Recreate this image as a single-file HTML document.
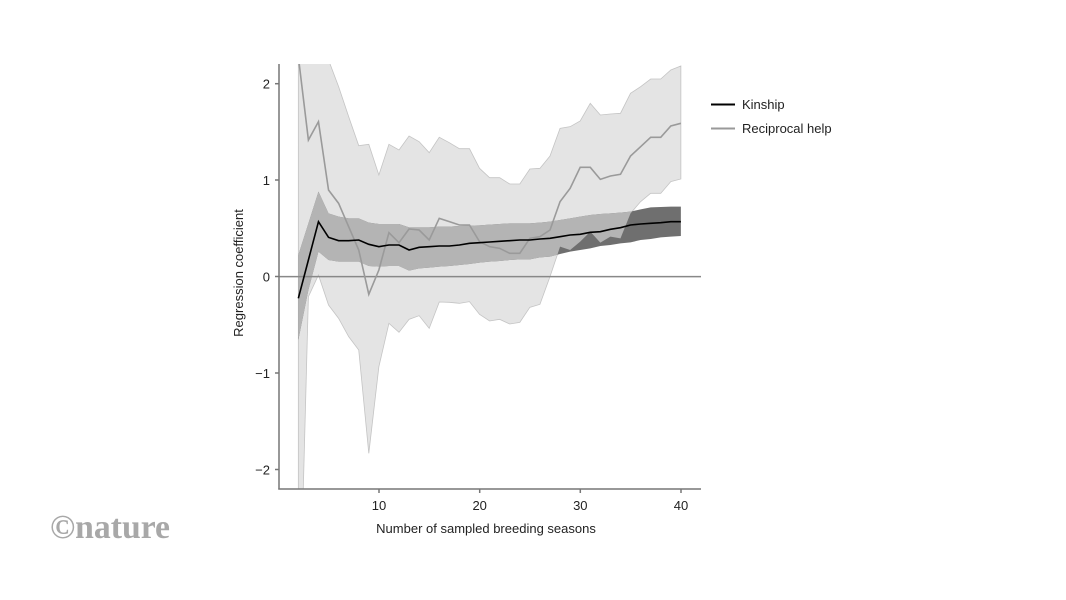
<!DOCTYPE html>
<html><head><meta charset="utf-8"><style>
html,body{margin:0;padding:0;background:#fff;}
svg{display:block;font-family:"Liberation Sans",Arial,sans-serif;}
</style></head><body>
<svg width="1066" height="600" viewBox="0 0 1066 600" xmlns="http://www.w3.org/2000/svg">
<defs>
<clipPath id="plot"><rect x="147" y="42" width="1266" height="1275"/></clipPath>
<clipPath id="light"><polygon points="205,-200 235.2,-200 265.4,-200 295.6,30 325.8,110 356,200 386.2,287 416.4,283 446.6,375 476.8,283 507,300 537.2,258 567.4,275 597.6,308 627.8,262 658,278 688.2,296 718.4,296 748.6,355 778.8,383 809,383 839.2,402 869.4,402 899.6,357 929.8,355 960,318 990.2,235 1020.4,230 1050.6,213 1080.8,160 1111,195 1141.2,192 1171.4,190 1201.6,130 1231.8,110 1262,87 1292.2,87 1322.4,60 1352.6,48 1352.6,387 1322.4,395 1292.2,430 1262,430 1231.8,455 1201.6,490 1171.4,565 1141.2,560 1111,578 1080.8,545 1050.6,575 1020.4,600 990.2,590 960,680 929.8,763 899.6,772 869.4,817 839.2,822 809,808 778.8,813 748.6,793 718.4,755 688.2,760 658,757 627.8,756 597.6,835 567.4,797 537.2,808 507,847 476.8,820 446.6,950 416.4,1210 386.2,900 356,860 325.8,805 295.6,765 265.4,675 235.2,740 215,1500 205,1500"/></clipPath>
</defs>
<g transform="translate(230,50) scale(0.3333333)">
<g clip-path="url(#plot)">
<polygon fill="#e4e4e4" stroke="#c4c4c4" stroke-width="0.8" vector-effect="non-scaling-stroke" points="205,-200 235.2,-200 265.4,-200 295.6,30 325.8,110 356,200 386.2,287 416.4,283 446.6,375 476.8,283 507,300 537.2,258 567.4,275 597.6,308 627.8,262 658,278 688.2,296 718.4,296 748.6,355 778.8,383 809,383 839.2,402 869.4,402 899.6,357 929.8,355 960,318 990.2,235 1020.4,230 1050.6,213 1080.8,160 1111,195 1141.2,192 1171.4,190 1201.6,130 1231.8,110 1262,87 1292.2,87 1322.4,60 1352.6,48 1352.6,387 1322.4,395 1292.2,430 1262,430 1231.8,455 1201.6,490 1171.4,565 1141.2,560 1111,578 1080.8,545 1050.6,575 1020.4,600 990.2,590 960,680 929.8,763 899.6,772 869.4,817 839.2,822 809,808 778.8,813 748.6,793 718.4,755 688.2,760 658,757 627.8,756 597.6,835 567.4,797 537.2,808 507,847 476.8,820 446.6,950 416.4,1210 386.2,900 356,860 325.8,805 295.6,765 265.4,675 235.2,740 215,1500 205,1500"/>
<polygon fill="#6f6f6f" points="205,615 235.2,520 265.4,425 295.6,490 325.8,500 356,505 386.2,505 416.4,518 446.6,522 476.8,522 507,522 537.2,532 567.4,532 597.6,532 627.8,530 658,530 688.2,528 718.4,527 748.6,526 778.8,524 809,522 839.2,520 869.4,520 899.6,520 929.8,518 960,515 990.2,510 1020.4,505 1050.6,500 1080.8,495 1111,492 1141.2,490 1171.4,488 1201.6,485 1231.8,478 1262,472 1292.2,471 1322.4,470 1352.6,470 1352.6,558 1322.4,560 1292.2,562 1262,567 1231.8,570 1201.6,577 1171.4,580 1141.2,585 1111,588 1080.8,595 1050.6,600 1020.4,605 990.2,612 960,620 929.8,622 899.6,628 869.4,628 839.2,630 809,633 778.8,635 748.6,638 718.4,642 688.2,645 658,648 627.8,650 597.6,653 567.4,655 537.2,662 507,648 476.8,648 446.6,650 416.4,648 386.2,635 356,635 325.8,635 295.6,630 265.4,605 235.2,720 205,870"/>
<g clip-path="url(#light)">
<polygon fill="#b4b4b4" points="205,615 235.2,520 265.4,425 295.6,490 325.8,500 356,505 386.2,505 416.4,518 446.6,522 476.8,522 507,522 537.2,532 567.4,532 597.6,532 627.8,530 658,530 688.2,528 718.4,527 748.6,526 778.8,524 809,522 839.2,520 869.4,520 899.6,520 929.8,518 960,515 990.2,510 1020.4,505 1050.6,500 1080.8,495 1111,492 1141.2,490 1171.4,488 1201.6,485 1231.8,478 1262,472 1292.2,471 1322.4,470 1352.6,470 1352.6,558 1322.4,560 1292.2,562 1262,567 1231.8,570 1201.6,577 1171.4,580 1141.2,585 1111,588 1080.8,595 1050.6,600 1020.4,605 990.2,612 960,620 929.8,622 899.6,628 869.4,628 839.2,630 809,633 778.8,635 748.6,638 718.4,642 688.2,645 658,648 627.8,650 597.6,653 567.4,655 537.2,662 507,648 476.8,648 446.6,650 416.4,648 386.2,635 356,635 325.8,635 295.6,630 265.4,605 235.2,720 205,870"/>
</g>
<line x1="147" y1="680" x2="1413" y2="680" stroke="#888" stroke-width="1.5" vector-effect="non-scaling-stroke"/>
<polyline fill="none" stroke="#9a9a9a" stroke-width="1.6" vector-effect="non-scaling-stroke" points="205,20 235.2,270 265.4,215 295.6,420 325.8,460 356,530 386.2,600 416.4,733 446.6,660 476.8,548 507,578 537.2,537 567.4,540 597.6,570 627.8,505 658,515 688.2,525 718.4,525 748.6,575 778.8,590 809,595 839.2,610 869.4,610 899.6,565 929.8,560 960,540 990.2,455 1020.4,415 1050.6,352 1080.8,352 1111,388 1141.2,378 1171.4,373 1201.6,318 1231.8,290 1262,262 1292.2,262 1322.4,228 1352.6,220"/>
<polyline fill="none" stroke="#000" stroke-width="1.6" vector-effect="non-scaling-stroke" points="205,745 235.2,630 265.4,515 295.6,562 325.8,572 356,572 386.2,570 416.4,583 446.6,590 476.8,585 507,585 537.2,600 567.4,592 597.6,590 627.8,588 658,588 688.2,585 718.4,580 748.6,578 778.8,576 809,574 839.2,572 869.4,570 899.6,570 929.8,567 960,565 990.2,560 1020.4,555 1050.6,553 1080.8,547 1111,545 1141.2,538 1171.4,533 1201.6,525 1231.8,522 1262,520 1292.2,518 1322.4,515 1352.6,515"/>
</g>
</g>
<g stroke="#777" stroke-width="1.5" fill="none">
<line x1="279" y1="64" x2="279" y2="489.5"/>
<line x1="278.3" y1="489" x2="701" y2="489"/>
<line x1="275" y1="83.7" x2="279" y2="83.7"/>
<line x1="275" y1="180" x2="279" y2="180"/>
<line x1="275" y1="276.5" x2="279" y2="276.5"/>
<line x1="275" y1="373" x2="279" y2="373"/>
<line x1="275" y1="469.5" x2="279" y2="469.5"/>
<line x1="379" y1="489" x2="379" y2="493"/>
<line x1="479.7" y1="489" x2="479.7" y2="493"/>
<line x1="580.3" y1="489" x2="580.3" y2="493"/>
<line x1="681" y1="489" x2="681" y2="493"/>
</g>
<g font-size="13" fill="#222" text-anchor="end">
<text x="270" y="88.5">2</text>
<text x="270" y="185">1</text>
<text x="270" y="281.5">0</text>
<text x="270" y="378">−1</text>
<text x="270" y="474.5">−2</text>
</g>
<g font-size="13" fill="#222" text-anchor="middle">
<text x="379" y="510">10</text>
<text x="479.7" y="510">20</text>
<text x="580.3" y="510">30</text>
<text x="681" y="510">40</text>
<text x="486" y="533">Number of sampled breeding seasons</text>
<text transform="translate(243,273) rotate(-90)">Regression coefficient</text>
</g>
<line x1="711" y1="104.5" x2="735" y2="104.5" stroke="#000" stroke-width="2"/>
<line x1="711" y1="128.5" x2="735" y2="128.5" stroke="#999" stroke-width="2"/>
<g font-size="13" fill="#222">
<text x="742" y="109">Kinship</text>
<text x="742" y="133">Reciprocal help</text>
</g>
<text x="50" y="538" font-family="'Liberation Serif',serif" font-weight="bold" font-size="34" fill="#a8a8a8" textLength="120" lengthAdjust="spacingAndGlyphs">©nature</text>
</svg>
</body></html>
